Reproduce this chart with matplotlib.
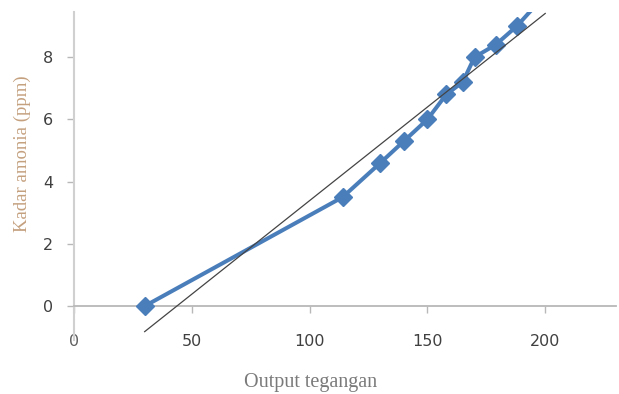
import numpy as np
import matplotlib
matplotlib.use("Agg")
import matplotlib.pyplot as plt

# data
output_tegangan = [30, 114, 130, 140, 150, 158, 165, 170, 179, 188, 200]
kadar_amonia = [0.0, 3.5, 4.6, 5.3, 6.0, 6.8, 7.2, 8.0, 8.4, 9.0, 10.0]
x_ticks = [0, 50, 100, 150, 200]
y_ticks = [0, 2, 4, 6, 8]

fig = plt.figure(figsize=(6.19, 3.94), dpi=100)
ax = fig.add_axes([0.1195, 0.137, 0.8755, 0.8325])

ax.plot(output_tegangan, kadar_amonia, color='#4a7ebb', linewidth=2.9,
        marker='D', markersize=9.5, markerfacecolor='#4a7ebb',
        markeredgecolor='#4a7ebb', zorder=3)

# linear trendline
k, b = np.polyfit(output_tegangan, kadar_amonia, 1)
xt = np.array([min(output_tegangan), max(output_tegangan)])
ax.plot(xt, k * xt + b, color='#444444', linewidth=0.9, zorder=4)

ax.set_xlim(0, 230)
ax.set_ylim(-1.09, 9.45)

for s in ['top', 'right']:
    ax.spines[s].set_visible(False)
ax.spines['left'].set_color('#d0d0d0')
ax.spines['left'].set_linewidth(1.5)
ax.spines['bottom'].set_position(('data', 0))
ax.spines['bottom'].set_color('#b8b8b8')
ax.spines['bottom'].set_linewidth(1.3)

ax.set_xticks(x_ticks)
ax.set_yticks(y_ticks)
ax.tick_params(axis='x', direction='out', length=5, width=1, color='#b8b8b8',
               pad=15, labelsize=11.5, labelcolor='#404040')
ax.tick_params(axis='y', direction='out', length=5, width=1, color='#b8b8b8',
               pad=10, labelsize=11.5, labelcolor='#404040')
for lbl in ax.get_xticklabels():
    if lbl.get_text() == '0':
        lbl.set_color('#606060')

fig.text(0.502, 0.028, 'Output tegangan', ha='center', va='center',
         family='Liberation Serif', fontsize=14.5, color='#7a7a7a')
fig.text(0.036, 0.61, 'Kadar amonia (ppm)', ha='center', va='center',
         rotation=90, family='Liberation Serif', fontsize=13.5, color='#c4a07e')

fig.savefig('out.png', dpi=100)
